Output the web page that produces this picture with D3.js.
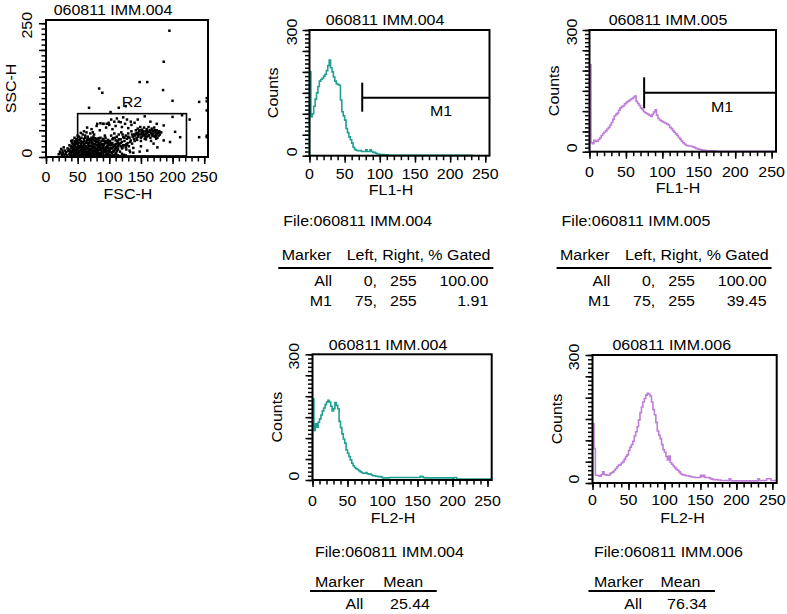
<!DOCTYPE html>
<html><head><meta charset="utf-8">
<script src="https://cdn.jsdelivr.net/npm/d3@7"></script>
<style>
html,body{margin:0;padding:0;background:#fff;}
svg text{font-family:"Liberation Sans",Arial,sans-serif;font-size:15px;fill:#000;}
</style></head><body>
<svg id="c" width="787" height="614"></svg>
<script>
// ---------------- DATA ----------------
const scatterTitle = "060811 IMM.004";
const scatterXLabel = "FSC-H", scatterYLabel = "SSC-H";
const scatterXTicks = [0, 50, 100, 150, 200, 250];
const scatterYTicks = [0, 250];
const gateR2 = [50, 222, 2, 81]; // FSC min, max, SSC min, max
const gateName = "R2";
const scatterPoints = [
 [20,5],[22,10],[24,15],[25,4],[27,8],[28,18],[30,12],[31,6],[33,3],[34,16],[26,12],[29,4],[32,9],[23,7],[35,11],
 [37,5],[38,12],[39,20],[40,8],[41,27],[42,3],[43,15],[44,22],[45,10],[46,30],[47,6],[48,18],[49,13],[50,25],[51,4],[52,9],[53,20],[54,33],[55,14],[56,7],[57,28],[58,3],[59,17],[60,23],[61,11],[62,36],[63,5],[64,19],[65,26],[66,9],[67,14],[68,31],[69,3],[70,21],[71,8],[72,16],[73,29],[74,12],[75,38],[76,6],[77,24],[78,18],[79,10],[80,33],[81,4],[82,27],[83,14],[84,20],[85,8],[86,36],[87,17],[88,11],[89,30],[90,5],[91,23],[92,15],[93,40],[94,9],[95,26],[96,19],[97,3],[98,32],[99,13],[100,22],
 [38,8],[40,16],[42,24],[44,5],[46,13],[48,28],[50,10],[52,17],[54,4],[56,22],[58,12],[60,30],[62,8],[64,14],[66,34],[68,20],[70,6],[72,26],[74,18],[76,11],[78,30],[80,15],[82,7],[84,25],[86,13],[88,22],[90,34],[92,9],[94,18],[96,28],[98,6],[100,14],
 [39,3],[41,11],[43,19],[45,26],[47,14],[49,8],[51,21],[53,12],[55,29],[57,5],[59,10],[61,18],[63,27],[65,4],[67,22],[69,12],[71,33],[73,7],[75,20],[77,15],[79,28],[81,9],[83,35],[85,18],[87,5],[89,24],[91,12],[93,28],[95,4],[97,21],[99,9],
 [44,16],[48,4],[52,27],[56,15],[60,6],[64,29],[68,10],[72,3],[76,31],[80,22],[84,4],[88,16],[92,31],[96,11],[58,20],[62,14],[66,2],[70,15],[74,25],[78,5],[82,19],[86,27],[90,17],[94,36],[98,25],
 [36,14],[37,22],[38,2],[40,30],[41,18],[42,9],[43,26],[44,12],[45,3],[46,20],[47,24],[48,10],[49,30],[50,15],[51,7],[52,32],[53,3],[54,18],[55,24],[56,11],[57,19],[58,27],[59,6],[60,14],[61,25],[62,3],[63,20],[64,9],[65,32],[66,17],[67,6],[68,26],[69,15],[70,29],[71,4],[72,21],[73,12],[74,33],[75,8],[76,17],[77,3],[78,24],[79,14],[80,6],[81,29],[82,12],[83,22],[84,31],[85,14],[86,4],[87,23],[88,30],[89,9],[90,19],[91,3],[92,24],[93,13],[94,29],[95,15],[96,6],[97,30],[98,17],[99,27],[100,4],[101,12],[102,26],[103,9],[104,16],[105,33],[106,10],[107,22],[108,4],[109,14],[110,24],[111,19],[112,11],[113,30],[114,14],[115,24],
 [48,34],[52,38],[56,36],[58,42],[62,40],[66,38],[70,44],[72,36],[76,42],[78,35],[64,46],[68,34],[74,46],[60,34],
 [101,30],[102,17],[103,40],[104,8],[105,26],[106,35],[107,12],[108,44],[109,21],[110,31],[111,6],[112,38],[113,16],[114,27],[115,42],[116,24],[117,10],[118,33],[119,46],[120,28],[121,18],[122,37],[123,4],[124,30],[125,22],[126,40],[127,14],[128,34],[129,26],[130,44],[131,20],[132,36],[133,9],[134,31],[135,48],[136,25],[137,38],[138,17],[139,42],[140,30],
 [103,22],[106,18],[109,36],[112,25],[115,33],[118,20],[121,42],[124,36],[127,24],[130,38],[133,28],[136,42],[139,34],
 [104,24],[108,20],[110,16],[114,20],[118,26],[120,16],[122,22],[126,18],[128,22],
 [102,4],[106,3],[110,8],[114,3],[120,6],[126,3],[132,12],[138,8],
 [141,40],[142,50],[143,35],[144,45],[145,53],[146,38],[147,48],[148,42],[149,56],[150,36],[151,46],[152,51],[153,40],[154,44],[155,55],[156,34],[157,48],[158,42],[159,52],[160,38],[161,46],[162,56],[163,41],[164,50],[165,36],[166,45],[167,53],[168,40],[169,48],[170,44],[171,55],[172,38],[173,47],[174,42],[175,50],[176,36],[177,45],[178,40],[179,48],[180,42],[182,46],
 [142,44],[145,41],[148,50],[151,38],[153,48],[156,42],[159,45],[162,40],[164,47],[167,43],[170,39],[172,50],[175,44],[178,46],[146,44],[152,43],[160,49],[168,50],[174,39],[157,38],
 [144,32],[150,30],[158,33],[166,30],[174,34],
 [150,20],[160,12],[170,25],[176,18],[148,10],[186,31],[212,37],[204,47],[186,59],[200,75],[215,78],[227,70],[242,37],[196,28],
 [60,48],[65,55],[72,52],[80,58],[85,50],[90,62],[95,55],[100,60],[105,52],[110,58],[115,66],[120,56],[125,62],[130,54],[135,60],[81,62],[86,63],[91,62],[96,62],[99,64],[103,70],[108,66],[112,72],[118,65],[122,74],[128,70],[134,66],[140,64],[145,70],[156,76],[165,66],[175,62],[102,84],[115,92],[126,95],[68,92],[55,45],[50,40],[45,36],[42,31],
 [195,236],[186,178],[148,140],[160,140],[84,128],[89,120],[185,125],[200,105],[242,103],
 [255,110],[255,104],[255,87],[255,37],[255,40]
];

const binWidth = 2;
const histXTicks = [0, 50, 100, 150, 200, 250];
const countTicks = [0, 300];
const countsLabel = "Counts";
const markerM1 = [75, 255];
const markerName = "M1";

// FL1-H, 060811 IMM.004 (counts per 2-channel bin)
const histFL1_004 = [200,93,100,118,135,150,165,178,182,185,
 190,194,203,215,228,210,200,188,178,172,
 170,168,133,105,95,85,65,55,45,38,
 30,20,15,13,12,12,12,10,10,10,
 14,10,10,14,10,8,8,6,4,4,
 3,3,3,2,2,2,1,1,1,1,
 1,1,1,1,1,1,1,1,1,1, 1,1,1,1,1,1,1,1,1,1,
 1,1,1,1,1,1,1,1,1,1, 1,1,1,1,1,1,1,1,1,1,
 1,1,1,1,1,1,1,1,1,1, 1,1,1,1,1,1];
// FL1-H, 060811 IMM.005
const histFL1_005 = [214,22,20,28,25,26,30,34,40,45,
 48,52,56,60,66,72,80,88,92,95,
 102,108,111,113,118,121,124,126,129,131,
 134,137,124,119,114,108,104,99,96,94,
 92,90,87,92,98,103,90,82,78,76,
 74,72,70,68,66,60,57,52,48,44,
 40,35,31,26,22,19,16,15,14,14,
 13,12,10,8,7,6,5,4,4,3,
 3,2,2,2,2,2,2,1,1,1, 1,1,1,1,1,1,1,1,1,1,
 1,1,1,1,1,1,1,1,1,1, 1,1,1,1,1,1,1,1,1,1,
 1,1,1,1,1,1,1,1];
// FL2-H, 060811 IMM.004
const histFL2_004 = [194,118,134,126,138,146,155,165,172,180,
 186,190,186,176,165,170,185,178,170,140,
 125,110,98,88,72,64,56,48,40,34,
 30,27,25,22,20,18,16,16,18,15,
 14,14,12,10,10,9,9,8,8,7,
 5,5,5,5,5,6,6,6,6,6,
 6,6,6,6,6,6,6,6,6,6, 6,6,6,6,6,6,6,9,8,6,
 5,5,5,5,5,5,5,5,5,5, 5,5,5,5,5,5,5,5,5,5,
 4,6,6,2,2,2,2,2,2,2, 2,2,2,2,2,2,2,2,2,2,
 2,2,2,2,2,2,2,2];
// FL2-H, 060811 IMM.006
const histFL2_006 = [139,81,18,18,17,16,20,26,20,19,
 18,18,22,24,26,30,34,38,42,43,
 47,50,56,62,66,76,84,90,98,110,
 120,132,148,165,178,190,198,206,210,208,
 204,190,172,160,142,122,112,104,90,78,
 72,62,54,63,48,44,40,36,32,30,
 26,22,20,19,18,17,17,16,15,14,
 14,13,13,13,13,18,15,18,13,13,
 13,12,10,9,8,8,8,7,7,6, 6,6,6,6,6,10,6,5,5,5,
 5,5,5,5,5,5,5,5,5,5, 5,5,5,5,5,10,6,6,6,6,
 6,10,10,10,6,6,6,6];

const gatedHeader = ["Marker", "Left, Right, % Gated"];
const gatedRows004 = [["All","0,","255","100.00"],["M1","75,","255","1.91"]];
const gatedRows005 = [["All","0,","255","100.00"],["M1","75,","255","39.45"]];
const meanHeader = ["Marker", "Mean"];
const meanRows004 = [["All","25.44"]];
const meanRows006 = [["All","76.34"]];

// ---------------- DRAWING ----------------
const svg = d3.select("#c");
const SX = 1.065;
const TEAL = "#20a091", VIOLET = "#bf7fd8";

function txt(x, y, s, anchor, rotate) {
  return svg.append("text")
    .attr("transform", `translate(${x},${y})${rotate ? " rotate(-90)" : ""} scale(${SX},1)`)
    .attr("text-anchor", anchor || "start").text(s);
}

function panel(c) {
  const x = d3.scaleLinear().domain([0, 256]).range([c.L, c.R]);
  const y = d3.scaleLinear().domain([0, c.yMax]).range([c.B, c.T]);
  const g = svg.append("g");
  const clean = a => { a.select(".domain").remove(); a.selectAll("line").attr("stroke-width", 1.5); };
  g.append("g").attr("transform", `translate(0,${c.B})`)
    .call(d3.axisBottom(x).tickValues(d3.range(0, 251, 10)).tickSize(4.5).tickFormat("")).call(clean);
  g.append("g").attr("transform", `translate(0,${c.B})`)
    .call(d3.axisBottom(x).tickValues(c.xTicks).tickSize(7).tickFormat("")).call(clean);
  g.append("g").attr("transform", `translate(${c.L},0)`)
    .call(d3.axisLeft(y).tickValues(d3.range(0, c.yMax + 1, 10)).tickSize(4.5).tickFormat("")).call(clean);
  g.append("g").attr("transform", `translate(${c.L},0)`)
    .call(d3.axisLeft(y).tickValues(d3.range(0, c.yMax + 1, 50)).tickSize(7).tickFormat("")).call(clean);
  c.xTicks.forEach(v => txt(x(v), c.xLabY, String(v), "middle"));
  c.yTicks.forEach((v, i) => txt(c.yLabX, y(v) + (i === 0 ? -4 : 2), String(v), "middle", true));
  txt(c.titleX, c.titleY, c.title, "middle");
  txt(c.xNameX, c.xNameY, c.xName, "middle");
  txt(c.yNameX, (c.T + c.B) / 2, c.yName, "middle", true);
  return {g, x, y};
}

function frameRect(c) {
  svg.append("rect").attr("x", c.L).attr("y", c.T).attr("width", c.R - c.L).attr("height", c.B - c.T)
    .attr("fill", "none").attr("stroke", "#000").attr("stroke-width", 2);
}

// ---- scatter
const sc = {L: 46, R: 208, T: 20, B: 157, yMax: 256, xTicks: scatterXTicks, yTicks: scatterYTicks,
  xLabY: 182, yLabX: 32, title: scatterTitle, titleX: 113, titleY: 15,
  xName: scatterXLabel, xNameX: 128, xNameY: 199, yName: scatterYLabel, yNameX: 16};
{
  const p = panel(sc);
  const D = 2.5;
  svg.append("g").selectAll("rect").data(scatterPoints).join("rect")
    .attr("x", d => Math.min(p.x(d[0]) - D / 2, sc.R - D)).attr("y", d => Math.min(p.y(d[1]) - D / 2, sc.B - D))
    .attr("width", D).attr("height", D).attr("fill", "#000");
  svg.append("rect").attr("x", p.x(gateR2[0])).attr("y", p.y(gateR2[3]))
    .attr("width", p.x(gateR2[1]) - p.x(gateR2[0])).attr("height", p.y(gateR2[2]) - p.y(gateR2[3]))
    .attr("fill", "none").attr("stroke", "#000").attr("stroke-width", 1.6);
  txt(132, 107, gateName, "middle");
  frameRect(sc);
}

// ---- histograms
function histogram(c, counts, color, marker) {
  const p = panel(c);
  const pts = [[0, 0]];
  counts.forEach((v, i) => pts.push([i * binWidth, v]));
  pts.push([counts.length * binWidth, counts[counts.length - 1]]);
  svg.append("path").attr("d", d3.line().x(d => p.x(d[0])).y(d => p.y(d[1])).curve(d3.curveStepAfter)(pts))
    .attr("fill", "none").attr("stroke", color).attr("stroke-width", 1.6);
  frameRect(c);
  if (marker) {
    const x0 = p.x(marker[0]), x1 = c.R;
    svg.append("line").attr("x1", x0).attr("x2", x0).attr("y1", c.mTop).attr("y2", c.mBot)
      .attr("stroke", "#000").attr("stroke-width", 2);
    svg.append("line").attr("x1", x0).attr("x2", x1).attr("y1", c.mY).attr("y2", c.mY)
      .attr("stroke", "#000").attr("stroke-width", 2);
    txt(c.mLabX, c.mLabY, markerName, "middle");
  }
}

histogram({L: 309.5, R: 489.5, T: 30, B: 155.7, yMax: 300, xTicks: histXTicks, yTicks: countTicks,
  xLabY: 179, yLabX: 297, title: "060811 IMM.004", titleX: 385, titleY: 25,
  xName: "FL1-H", xNameX: 391, xNameY: 195, yName: countsLabel, yNameX: 278,
  mTop: 82.7, mBot: 111.7, mY: 97.7, mLabX: 441, mLabY: 116}, histFL1_004, TEAL, markerM1);

histogram({L: 589.5, R: 776, T: 30, B: 151.7, yMax: 300, xTicks: histXTicks, yTicks: countTicks,
  xLabY: 177, yLabX: 577, title: "060811 IMM.005", titleX: 668, titleY: 25,
  xName: "FL1-H", xNameX: 678, xNameY: 193, yName: countsLabel, yNameX: 558.5,
  mTop: 77.3, mBot: 108.3, mY: 92.7, mLabX: 722, mLabY: 112}, histFL1_005, VIOLET, markerM1);

histogram({L: 312.5, R: 491.7, T: 354.3, B: 480, yMax: 300, xTicks: histXTicks, yTicks: countTicks,
  xLabY: 506, yLabX: 298.5, title: "060811 IMM.004", titleX: 388, titleY: 350,
  xName: "FL2-H", xNameX: 393, xNameY: 523, yName: countsLabel, yNameX: 281.7}, histFL2_004, TEAL, null);

histogram({L: 592.5, R: 776.7, T: 355, B: 483, yMax: 300, xTicks: histXTicks, yTicks: countTicks,
  xLabY: 505, yLabX: 578.5, title: "060811 IMM.006", titleX: 671.7, titleY: 349.5,
  xName: "FL2-H", xNameX: 682.5, xNameY: 523, yName: countsLabel, yNameX: 561.7}, histFL2_006, VIOLET, null);

// ---- tables
const TY = 7;
function gatedTable(ox, file, rows) {
  txt(ox + 1.6, 219.3 + TY, "File:" + file, "start");
  txt(ox, 253.3 + TY, gatedHeader[0], "start");
  txt(ox + 65, 253.3 + TY, gatedHeader[1], "start");
  svg.append("line").attr("x1", ox - 3.4).attr("x2", ox + 211.6).attr("y1", 261 + TY).attr("y2", 261 + TY)
    .attr("stroke", "#000").attr("stroke-width", 2);
  const cols = [50.3, 95.3, 135, 206.6];
  rows.forEach((r, i) => r.forEach((s, j) => txt(ox + cols[j], 279.3 + TY + i * 20, s, "end")));
}
gatedTable(281.7, "060811 IMM.004", gatedRows004);
gatedTable(560, "060811 IMM.005", gatedRows005);

function meanTable(ox, file, rows, meanX, allR, valR, ulL, ulR) {
  txt(ox, 556.7, "File:" + file, "start");
  txt(ox, 586.7, meanHeader[0], "start");
  txt(meanX, 586.7, meanHeader[1], "start");
  svg.append("line").attr("x1", ulL).attr("x2", ulR).attr("y1", 591).attr("y2", 591)
    .attr("stroke", "#000").attr("stroke-width", 2);
  rows.forEach((r, i) => { txt(allR, 609.3 + i * 20, r[0], "end"); txt(valR, 609.3 + i * 20, r[1], "end"); });
}
meanTable(315, "060811 IMM.004", meanRows004, 383.3, 363.3, 430, 310, 436.7);
meanTable(594, "060811 IMM.006", meanRows006, 660.5, 642, 707, 588.5, 715);
</script>
</body></html>
